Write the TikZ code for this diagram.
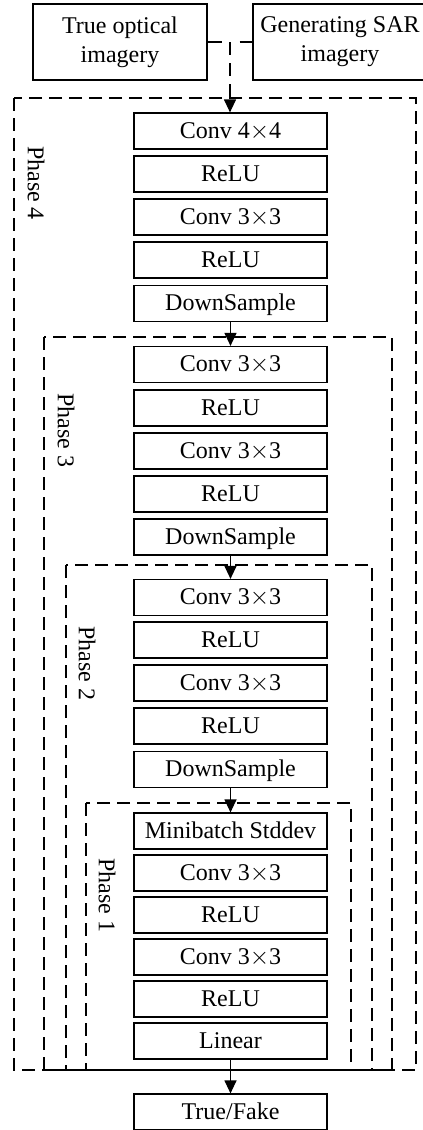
\documentclass[tikz,border=0pt]{standalone}
\usepackage{fontspec}
\setmainfont{Liberation Serif}
\usetikzlibrary{arrows.meta,calc}
\begin{document}
\begin{tikzpicture}[x=1pt,y=-1pt,
  every node/.style={font=\fontsize{24}{29}\selectfont},
  layer/.style={draw,line width=1.2pt,minimum width=193pt,minimum height=36pt,inner sep=0pt,text height=16.5pt,text depth=2.5pt},
  inbox/.style={draw,line width=1.2pt,minimum width=174pt,minimum height=76pt,inner sep=0pt,align=center},
  phase/.style={draw,line width=1.2pt,dash pattern=on 13pt off 7pt},
  plabel/.style={rotate=-90,inner sep=0pt},
  flow/.style={line width=1.2pt,-{Triangle[length=13pt,width=12pt]}},
  dflow/.style={flow,dash pattern=on 13pt off 8pt}]
\useasboundingbox (0,0) rectangle (423,1130);
% input boxes
\node[inbox] (opt) at (120,42) {True optical\\imagery};
\node[inbox] (sar) at (340,42) {Generating SAR\\imagery};
% phase frames
\draw[phase] (14,98) rectangle (416,1070);
\draw[phase] (44,337) rectangle (392,1070);
\draw[phase] (66,565) rectangle (372,1070);
\draw[phase] (86,803) rectangle (351,1070);
\node[plabel] (p4) at (36,183) {Phase 4};
\node[plabel] (p3) at (66,430) {Phase 3};
\node[plabel] (p2) at (87,663) {Phase 2};
\node[plabel] (p1) at (107,895) {Phase 1};
% phase 4 layers
\node[layer] (a1) at (230.5,131) {Conv 4$\times$4};
\node[layer] (a2) at (230.5,174) {ReLU};
\node[layer] (a3) at (230.5,217) {Conv 3$\times$3};
\node[layer] (a4) at (230.5,260) {ReLU};
\node[layer] (a5) at (230.5,303.5) {DownSample};
% phase 3 layers
\node[layer] (b1) at (230.5,364.5) {Conv 3$\times$3};
\node[layer] (b2) at (230.5,408) {ReLU};
\node[layer] (b3) at (230.5,451) {Conv 3$\times$3};
\node[layer] (b4) at (230.5,494) {ReLU};
\node[layer] (b5) at (230.5,537) {DownSample};
% phase 2 layers
\node[layer] (c1) at (230.5,597.5) {Conv 3$\times$3};
\node[layer] (c2) at (230.5,640) {ReLU};
\node[layer] (c3) at (230.5,683) {Conv 3$\times$3};
\node[layer] (c4) at (230.5,726) {ReLU};
\node[layer] (c5) at (230.5,769.5) {DownSample};
% phase 1 layers
\node[layer] (d1) at (230.5,831) {Minibatch Stddev};
\node[layer] (d2) at (230.5,873) {Conv 3$\times$3};
\node[layer] (d3) at (230.5,915) {ReLU};
\node[layer] (d4) at (230.5,957) {Conv 3$\times$3};
\node[layer] (d5) at (230.5,999) {ReLU};
\node[layer] (d6) at (230.5,1041) {Linear};
% output
\node[layer] (out) at (230.5,1112) {True/Fake};
% connectors
\draw[line width=1.2pt,dash pattern=on 14pt off 18pt] (opt.east) -- (sar.west);
\coordinate (j) at ($(opt.east)!0.5!(sar.west)$);
\draw[dflow] (j) -- (j |- a1.north);
\draw[flow] (a5) -- (b1);
\draw[flow] (b5) -- (c1);
\draw[flow] (c5) -- (d1);
\draw[flow] (d6) -- (out);
\end{tikzpicture}
\end{document}
